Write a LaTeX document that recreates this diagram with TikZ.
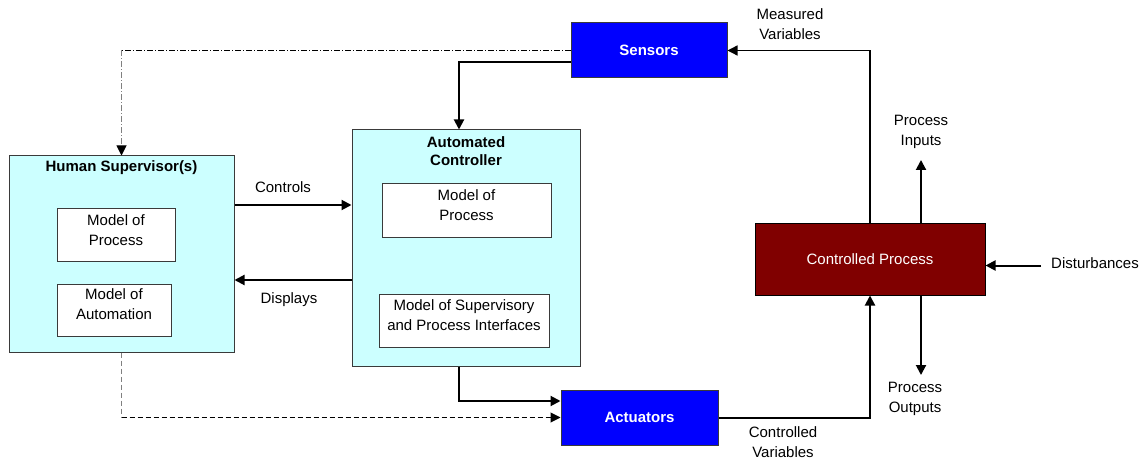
\documentclass[tikz,border=0pt]{standalone}
\usepackage{fontspec}
\setmainfont{Liberation Sans}
\usetikzlibrary{arrows.meta}

\definecolor{paleaqua}{HTML}{CCFFFF}
\definecolor{pureblue}{HTML}{0000FF}
\definecolor{maroonred}{HTML}{800000}
\definecolor{edgegray}{HTML}{3A3A3A}

\tikzset{
  txt/.style={font=\fontsize{15}{19.5}\selectfont, align=center, inner sep=0pt},
  btxt/.style={txt, font=\fontsize{15}{18}\selectfont\bfseries},
  panel/.style={draw=edgegray, line width=1pt, fill=paleaqua, inner sep=0pt},
  inbox/.style={draw=edgegray, line width=1pt, fill=white, inner sep=0pt},
  bluebox/.style={draw=edgegray, line width=1pt, fill=pureblue, inner sep=0pt,
    text=white, font=\fontsize{15}{18}\selectfont\bfseries},
  procbox/.style={draw=black, line width=1pt, fill=maroonred, inner sep=0pt,
    text=white, font=\fontsize{15}{18}\selectfont},
  tip/.style={-{Triangle[length=10pt,width=10pt,color=black]}},
  flow/.style={tip, line width=2pt},
  thinflow/.style={tip, line width=1.4pt},
  dashdotline/.style={line width=1pt, dash pattern=on 6pt off 2pt on 1pt off 2pt},
  dashline/.style={line width=1pt, dash pattern=on 5pt off 3pt},
}

\begin{document}
\begin{tikzpicture}[x=1pt, y=-1pt]
\useasboundingbox (0,0) rectangle (1142,462);

% supervisor panel
\node[panel, minimum width=225pt, minimum height=196pt] (hs) at (121.5,254) {};
\node[btxt] (hstitle) at (121.5,168) {Human Supervisor(s)};
\node[inbox, minimum width=118pt, minimum height=52pt] (hsproc) at (116,235) {};
\node[txt] (hsproctxt) at (116,230) {Model of\\Process};
\node[inbox, minimum width=114pt, minimum height=52pt] (hsauto) at (114,310) {};
\node[txt] (hsautotxt) at (114,304) {Model of\\Automation};

% automated controller panel
\node[panel, minimum width=228pt, minimum height=236pt] (ac) at (466,248) {};
\node[btxt] (actitle) at (466,151) {Automated\\Controller};
\node[inbox, minimum width=169pt, minimum height=54pt] (acproc) at (466.5,211) {};
\node[txt] (acproctxt) at (466.5,205) {Model of\\Process};
\node[inbox, minimum width=170pt, minimum height=53pt] (acif) at (464,320.5) {};
\node[txt] (aciftxt) at (464,315) {Model of Supervisory\\and Process Interfaces};

% sensors, actuators, process
\node[bluebox, minimum width=156pt, minimum height=55pt] (sensors) at (649,50.5) {Sensors};
\node[bluebox, minimum width=157pt, minimum height=55pt] (actuators) at (639.5,417.5) {Actuators};
\node[procbox, minimum width=230pt, minimum height=71pt] (cp) at (870,259.5) {Controlled Process};

% free ends of the process arrows
\coordinate (inend) at (921,160);
\coordinate (outend) at (921,375);
\coordinate (diststart) at (1041,265.5);

% supervisor <-> controller
\draw[flow] ([yshift=49pt]hs.east) -- ([yshift=49pt]hs.east -| ac.west);
\draw[flow] ([yshift=-32pt]ac.west) -- ([yshift=-32pt]ac.west -| hs.east);

% sensor feedback
\draw[flow] ([yshift=-12pt]sensors.west) -| ([xshift=-7pt]ac.north);
\draw[dashdotline] (sensors.west) -- (sensors.west -| hs.north);
\draw[dashdotline, draw=gray, tip] (sensors.west -| hs.north) -- (hs.north);

% commands to actuators
\draw[flow] ([xshift=-7pt]ac.south) |- ([yshift=16.5pt]actuators.west);
\draw[dashline, draw=gray] (hs.south) -- (hs.south |- actuators.west);
\draw[dashline, tip] (hs.south |- actuators.west) -- (actuators.west);

% process loop
\draw[flow] (actuators.east) -| (cp.south);
\draw[thinflow] (cp.north) |- (sensors.east);
\draw[flow] (cp.north -| inend) -- (inend);
\draw[flow] (cp.south -| outend) -- (outend);
\draw[flow] (diststart) -- (diststart -| cp.east);

% connector labels
\node[txt] (lcontrols) at (283,187) {Controls};
\node[txt] (ldisplays) at (289,300) {Displays};
\node[txt] (lmeasured) at (790,24) {Measured\\Variables};
\node[txt] (linputs) at (921,132) {Process\\Inputs};
\node[txt] (loutputs) at (915,399) {Process\\Outputs};
\node[txt] (lcontrolled) at (783,442) {Controlled\\Variables};
\node[txt] (ldist) at (1095,263) {Disturbances};
\end{tikzpicture}
\end{document}
